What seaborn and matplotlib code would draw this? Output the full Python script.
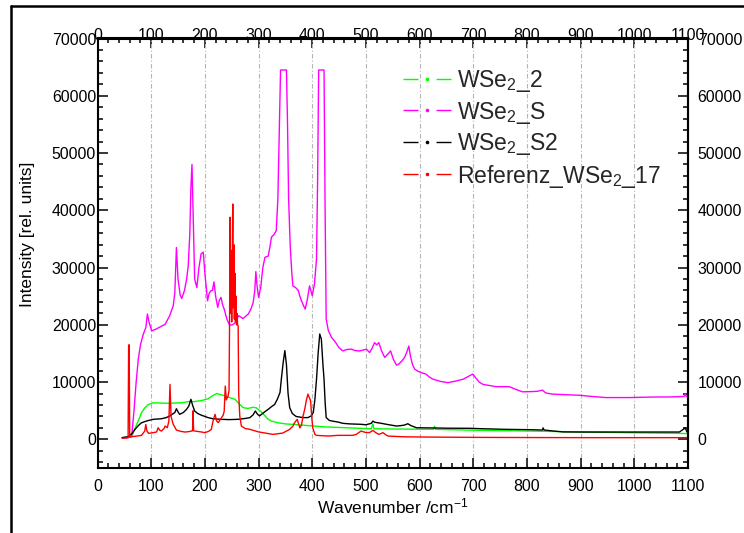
import numpy as np
import pandas as pd
import matplotlib
matplotlib.use("Agg")
import matplotlib.pyplot as plt
from matplotlib.lines import Line2D
from matplotlib.ticker import MultipleLocator
import seaborn as sns

# Raman spectra: wavenumber (cm^-1) and intensity (rel. units)
names = ["WSe$_2$_2", "WSe$_2$_S", "WSe$_2$_S2", "Referenz_WSe$_2$_17"]
colors = ["#00ff00", "#ff00ff", "#000000", "#ff0000"]

wse2_2_x = [46, 57, 64, 68, 73, 78, 82, 88, 95, 104, 115, 132, 145, 157, 170, 181, 195, 206, 214,
            222, 230, 237, 246, 256, 264, 271, 280, 290, 296, 305, 312, 318, 324, 336, 350, 367,
            386, 400, 420, 432, 470, 510, 513, 515, 560, 626, 628, 630, 700, 805, 900, 1000,
            1084, 1100]
wse2_2_y = [300, 350, 470, 1500, 2600, 3700, 4670, 5500, 6100, 6400, 6350, 6300, 6350, 6400, 6600,
            6600, 6800, 7100, 7600, 8000, 7800, 7600, 7300, 7000, 6200, 5550, 5400, 5600, 5500,
            4800, 4100, 3500, 3200, 2900, 2700, 2600, 2450, 2350, 2200, 2150, 2000, 1850, 2700,
            1850, 1800, 1750, 2300, 1750, 1600, 1450, 1300, 1150, 1050, 1000]

wse2_s_x = [46, 57, 62, 64, 68, 72, 76, 80, 85, 90, 93, 96, 101, 110, 120, 126, 134, 141, 144, 147,
            150, 154, 157, 162, 166, 169, 172, 174, 176, 178, 181, 185, 189, 193, 197, 200, 205,
            208, 211, 214, 217, 220, 224, 227, 230, 233, 236, 241, 246, 251, 256, 263, 271, 281,
            286, 290, 293, 295, 297, 300, 304, 308, 312, 318, 321, 324, 329, 333, 336, 339, 341,
            352, 354, 356, 359, 362, 364, 369, 374, 377, 380, 384, 387, 391, 395, 398, 400, 404,
            408, 410, 412, 422, 424, 426, 430, 436, 443, 450, 457, 465, 473, 480, 488, 495, 501,
            507, 512, 516, 520, 524, 529, 535, 540, 546, 551, 557, 562, 567, 572, 576, 580, 583,
            587, 591, 597, 603, 612, 618, 625, 640, 653, 668, 681, 691, 699, 705, 711, 718, 730,
            743, 755, 767, 780, 792, 811, 820, 829, 835, 848, 870, 898, 920, 947, 970, 991, 1015,
            1040, 1060, 1084, 1093, 1095, 1097, 1100]
wse2_s_y = [300, 320, 380, 900, 5000, 10000, 14000, 16500, 18300, 19500, 21900, 20500, 18950,
            19300, 19800, 20100, 21500, 23300, 25500, 33500, 28000, 25200, 24600, 26000, 28000,
            30300, 36000, 44000, 48000, 40000, 28000, 26500, 30000, 32400, 32700, 29000, 24200,
            25500, 25950, 26000, 27500, 25000, 23050, 24300, 24800, 23500, 22750, 21000, 19950,
            20000, 20300, 21600, 21100, 21900, 22800, 23900, 26000, 29300, 27000, 24800, 26500,
            30000, 31800, 32000, 33500, 35300, 35800, 36450, 42000, 55000, 64500, 64500, 55000,
            42000, 33800, 29000, 26800, 26500, 26000, 25000, 24200, 23300, 22750, 24500, 26800,
            25800, 25100, 27000, 31500, 45000, 64500, 64500, 40000, 21000, 19000, 17800, 17000,
            16000, 15450, 15700, 15750, 15500, 15450, 15600, 15750, 15150, 16000, 16900, 16500,
            16900, 15500, 14300, 14800, 15450, 14000, 12950, 13200, 13700, 14300, 15200, 16300,
            14500, 13000, 12250, 11900, 11650, 11400, 10900, 10500, 10100, 9900, 10200, 10500,
            11000, 11400, 10700, 10000, 9600, 9400, 9200, 9200, 9200, 8700, 8300, 8350, 8400,
            8600, 8100, 7900, 7800, 7700, 7500, 7300, 7300, 7300, 7350, 7400, 7400, 7450, 7500,
            8000, 7500, 7400]

wse2_s2_x = [46, 57, 64, 70, 76, 82, 88, 95, 104, 119, 128, 135, 141, 144, 147, 150, 153, 160, 166,
             170, 174, 177, 181, 187, 194, 200, 206, 215, 231, 245, 262, 275, 284, 290, 294, 298,
             302, 310, 318, 324, 330, 335, 340, 343, 346, 349, 352, 355, 358, 363, 370, 383, 392,
             398, 402, 405, 408, 411, 414, 417, 420, 422, 424, 426, 432, 440, 448, 457, 470, 491,
             500, 510, 513, 516, 522, 529, 540, 557, 565, 572, 578, 584, 594, 620, 650, 693, 720,
             760, 800, 829, 830, 832, 850, 867, 900, 1000, 1084, 1095, 1098, 1100]
wse2_s2_y = [300, 470, 1000, 1750, 2400, 2900, 3100, 3300, 3500, 3600, 3800, 4100, 4500, 4670,
             5350, 4800, 4370, 4700, 5250, 5800, 7000, 6000, 4950, 4500, 4200, 4000, 3800, 3600,
             3500, 3450, 3500, 3650, 3800, 4300, 4950, 4400, 4100, 4700, 5250, 5700, 6100, 7000,
             8200, 11000, 13500, 15500, 13000, 8000, 5550, 4500, 4000, 3800, 3800, 4100, 4700,
             7000, 10500, 15000, 18400, 17500, 13000, 10500, 6500, 3800, 3300, 3150, 3030, 2800,
             2700, 2630, 2550, 2800, 3200, 3000, 2900, 2800, 2600, 2330, 2400, 2500, 2730, 2400,
             2030, 2000, 1950, 1930, 1850, 1750, 1700, 1630, 2000, 1630, 1450, 1300, 1280, 1280,
             1280, 2000, 1300, 1280]

ref_x = [46, 55, 57, 58, 59, 60, 64, 75, 82, 86, 88, 90, 92, 95, 105, 110, 113, 116, 119, 124,
         126, 130, 133, 135, 137, 141, 147, 155, 163, 170, 175, 177, 178, 179, 185, 193, 200, 207,
         212, 216, 219, 222, 225, 231, 234, 236, 238, 240, 243, 245, 246, 247, 248, 249, 250, 251,
         252, 253, 254, 255, 256, 257, 258, 259, 260, 261, 262, 263, 265, 268, 275, 284, 300, 327,
         345, 358, 364, 367, 372, 377, 380, 383, 386, 389, 392, 395, 397, 399, 401, 405, 408, 430,
         448, 475, 482, 491, 496, 501, 507, 513, 518, 524, 532, 537, 541, 570, 619, 700, 800, 900,
         1000, 1100]
ref_y = [200, 250, 300, 16500, 16500, 500, 470, 600, 700, 1200, 1450, 2600, 1500, 1050, 1200, 1280,
         2030, 1600, 1450, 1900, 2330, 2030, 3200, 9600, 4000, 2630, 1630, 1400, 1280, 1350, 1450,
         1500, 5000, 1500, 1400, 1300, 1170, 1400, 1750, 3500, 4370, 3200, 2930, 3800, 4200, 4900,
         9300, 6900, 7500, 8450, 20000, 38800, 22000, 33000, 20500, 30000, 41100, 23000, 34000,
         21000, 29000, 20500, 25000, 20000, 22000, 20000, 19800, 8000, 4100, 2330, 1900, 1750, 1300,
         870, 1100, 1750, 2300, 2900, 3500, 2000, 2500, 4100, 5250, 6800, 7900, 7200, 6700, 4000,
         2000, 870, 700, 580, 700, 700, 870, 1450, 1300, 1170, 1200, 1570, 1200, 870, 1170, 800,
         580, 450, 400, 350, 320, 300, 300, 300]

series_x = [wse2_2_x, wse2_s_x, wse2_s2_x, ref_x]
series_y = [wse2_2_y, wse2_s_y, wse2_s2_y, ref_y]

df = pd.concat(
    [pd.DataFrame({"wavenumber": xs, "intensity": ys, "sample": n})
     for n, xs, ys in zip(names, series_x, series_y)],
    ignore_index=True,
)

sns.set_theme(style="white")
plt.rcParams["font.family"] = ["Liberation Sans", "DejaVu Sans"]
plt.rcParams["mathtext.fontset"] = "custom"
plt.rcParams["mathtext.rm"] = "Liberation Sans"
plt.rcParams["mathtext.it"] = "Liberation Sans:italic"
plt.rcParams["mathtext.bf"] = "Liberation Sans:bold"

W, H = 744, 533
fig = plt.figure(figsize=(W / 100, H / 100), dpi=100)
ax = fig.add_axes([97.5 / W, 1 - 468 / H, 590.5 / W, (468 - 38.5) / H])

sns.lineplot(data=df, x="wavenumber", y="intensity", hue="sample", hue_order=names,
             palette=colors, estimator=None, sort=False, linewidth=1.0, legend=False, ax=ax)

ax.set_xlim(0, 1100)
ax.set_ylim(-5000, 70000)
ax.xaxis.set_major_locator(MultipleLocator(100))
ax.xaxis.set_minor_locator(MultipleLocator(20))
ax.yaxis.set_major_locator(MultipleLocator(10000))
ax.yaxis.set_minor_locator(MultipleLocator(2000))

ax.set_axisbelow(True)
ax.xaxis.grid(True, color="#b4b4b4", linestyle=(0, (4, 2, 1, 2)), linewidth=0.8)
ax.yaxis.grid(False)

for sp in ax.spines.values():
    sp.set_color("black")
    sp.set_linewidth(1.5)

tick_font = 11.4
ax.tick_params(which="both", direction="in", colors="black", width=1.1,
               bottom=True, left=True, top=False, right=False)
ax.tick_params(which="major", length=7)
ax.tick_params(which="minor", length=3.5)
ax.tick_params(axis="x", pad=8, labelsize=tick_font)
ax.tick_params(axis="y", pad=1, labelsize=tick_font)

# top and right scales repeat the bottom and left ones
secx = ax.secondary_xaxis("top")
secx.xaxis.set_major_locator(MultipleLocator(100))
secx.xaxis.set_minor_locator(MultipleLocator(20))
secx.tick_params(which="both", direction="in", colors="black", width=1.1, labelsize=tick_font, pad=-3.5)
secx.tick_params(which="major", length=7)
secx.tick_params(which="minor", length=3.5)
secx.spines["top"].set_linewidth(1.5)
secx.spines["top"].set_color("black")

secy = ax.secondary_yaxis("right")
secy.yaxis.set_major_locator(MultipleLocator(10000))
secy.yaxis.set_minor_locator(MultipleLocator(2000))
secy.tick_params(which="both", direction="in", colors="black", width=1.1, labelsize=tick_font, pad=7)
secy.tick_params(which="major", length=7)
secy.tick_params(which="minor", length=3.5)
secy.spines["right"].set_linewidth(1.5)
secy.spines["right"].set_color("black")

ax.set_xlabel("Wavenumber /cm$^{-1}$", fontsize=12.5, color="black", labelpad=2)
ax.set_ylabel("Intensity [rel. units]", fontsize=12.5, color="black")
ax.yaxis.set_label_coords(-0.105, 0.545)

legend_font = 16.5
handles = [Line2D([], [], color=c, linewidth=1.0, dashes=(10.8, 13), marker="o",
                  markersize=2.6, markeredgewidth=0) for c in colors]
ax.legend(handles, names, loc="upper left", bbox_to_anchor=(403 / W, 1 - 68 / H),
          bbox_transform=fig.transFigure, frameon=False, fontsize=legend_font,
          handlelength=34.6 / legend_font, handletextpad=4.3 / legend_font,
          labelspacing=0.24, borderpad=0, borderaxespad=0, numpoints=1)

# page frame on the left and top edges
fig.add_artist(Line2D([10.5 / W, 10.5 / W], [0, 1 - 5.5 / H], transform=fig.transFigure,
                      color="black", linewidth=1.8))
fig.add_artist(Line2D([10.5 / W, 1], [1 - 5.5 / H, 1 - 5.5 / H], transform=fig.transFigure,
                      color="black", linewidth=1.8))

fig.savefig("out.png", dpi=100)
